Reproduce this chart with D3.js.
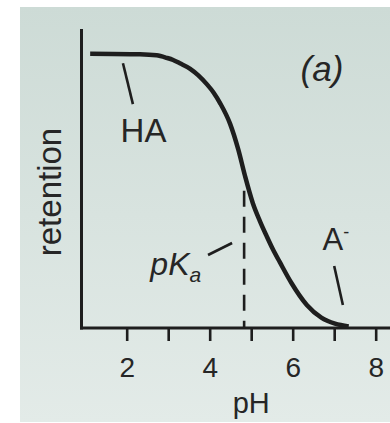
<!DOCTYPE html>
<html>
<head>
<meta charset="utf-8">
<script src="https://cdn.jsdelivr.net/npm/d3@7"></script>
<style>
  html, body { margin: 0; padding: 0; background: #ffffff; }
  svg { display: block; }
  text { font-family: "Liberation Sans", Arial, Helvetica, sans-serif; fill: #262626; }
</style>
</head>
<body>
<svg id="chart" width="390" height="423"></svg>
<script>
// Retention of a weak acid HA vs mobile-phase pH
const pHValues = [1.12, 2.32, 2.72, 2.96, 3.12, 3.28, 3.53, 3.72, 3.93, 4.10, 4.25, 4.49, 4.69, 4.85, 5.04, 5.21, 5.37, 5.52, 5.69, 5.97, 6.34, 6.69, 7.02, 7.35];
const retention = [1.0, 0.998, 0.994, 0.985, 0.977, 0.965, 0.945, 0.922, 0.889, 0.857, 0.820, 0.745, 0.650, 0.555, 0.455, 0.390, 0.336, 0.288, 0.240, 0.164, 0.084, 0.038, 0.016, 0.006];
const tickValues = [2, 3, 4, 5, 6, 7, 8];
const tickLabels = ["2", "", "4", "", "6", "", "8"];
const pKa = 4.83;
const pKaRetention = 0.5;

// Leader lines for the annotations, in (pH, retention) units
const leaderHA = [[1.91, 0.965], [2.15, 0.816]];
const leaderPKa = [[3.96, 0.266], [4.54, 0.310]];
const leaderA = [[7.00, 0.226], [7.21, 0.084]];

const svg = d3.select("#chart");
const W = 390;

// panel background with soft vertical gradient
const defs = svg.append("defs");
const grad = defs.append("linearGradient").attr("id", "bg").attr("x1", 0).attr("y1", 0).attr("x2", 0).attr("y2", 1);
grad.append("stop").attr("offset", "0%").attr("stop-color", "#cddbd6");
grad.append("stop").attr("offset", "100%").attr("stop-color", "#e3ebe8");
svg.append("rect").attr("x", 20).attr("y", 7).attr("width", W - 20).attr("height", 415).attr("fill", "url(#bg)");

const x = d3.scaleLinear().domain([0.875, 8.345]).range([80, 390]);
const y = d3.scaleLinear().domain([0, 1.09]).range([328, 29]);

const ink = "#1e1e1e";

// x axis with ticks hanging below the line
const xAxis = d3.axisBottom(x)
  .tickValues(tickValues)
  .tickFormat((d, i) => tickLabels[i])
  .tickSizeInner(13)
  .tickSizeOuter(0)
  .tickPadding(16);

const gx = svg.append("g").attr("transform", `translate(0,${y(0)})`).call(xAxis);
gx.select(".domain").remove();
gx.selectAll(".tick line").attr("stroke", ink).attr("stroke-width", 2.6);
gx.selectAll(".tick text").attr("font-size", 28).attr("fill", "#262626")
  .attr("font-family", "\"Liberation Sans\", Arial, sans-serif");

// axis lines
svg.append("line").attr("x1", x.range()[0]).attr("x2", x.range()[1])
  .attr("y1", y(0)).attr("y2", y(0)).attr("stroke", ink).attr("stroke-width", 3);
svg.append("line").attr("x1", x.range()[0] + 1.5).attr("x2", x.range()[0] + 1.5)
  .attr("y1", y(0) + 1.5).attr("y2", y.range()[1]).attr("stroke", ink).attr("stroke-width", 3);

// pKa marker, dashes start at the curve
svg.append("line")
  .attr("x1", x(pKa)).attr("x2", x(pKa))
  .attr("y1", y(pKaRetention)).attr("y2", y(0))
  .attr("stroke", ink).attr("stroke-width", 2.6)
  .attr("stroke-dasharray", "16,10");

// retention curve
const pts = pHValues.map((p, i) => [p, retention[i]]);
svg.append("path").datum(pts)
  .attr("fill", "none").attr("stroke", ink).attr("stroke-width", 4.5)
  .attr("stroke-linejoin", "round")
  .attr("d", d3.line().x(d => x(d[0])).y(d => y(d[1])).curve(d3.curveMonotoneX));

// leader lines
[leaderHA, leaderPKa, leaderA].forEach(seg => {
  svg.append("line")
    .attr("x1", x(seg[0][0])).attr("y1", y(seg[0][1]))
    .attr("x2", x(seg[1][0])).attr("y2", y(seg[1][1]))
    .attr("stroke", ink).attr("stroke-width", 2.6);
});

// labels
svg.append("text").attr("x", x(2.405)).attr("y", y(0.678))
  .attr("text-anchor", "middle").attr("font-size", 33).text("HA");

const pk = svg.append("text").attr("x", x(2.57)).attr("y", y(0.193))
  .attr("font-size", 32).attr("font-style", "italic");
pk.append("tspan").text("pK");
pk.append("tspan").attr("font-size", 21).attr("dy", 7).text("a");

const am = svg.append("text").attr("x", x(6.72)).attr("y", y(0.284))
  .attr("font-size", 31);
am.append("tspan").text("A");
am.append("tspan").attr("font-size", 18).attr("dy", -12).text("-");

svg.append("text").attr("x", x(6.706)).attr("y", y(0.9))
  .attr("text-anchor", "middle").attr("font-size", 35).attr("font-style", "italic").text("(a)");

svg.append("text").attr("x", x(5.0)).attr("y", 413)
  .attr("text-anchor", "middle").attr("font-size", 29).text("pH");

svg.append("text").attr("transform", `translate(61,192) rotate(-90)`)
  .attr("text-anchor", "middle").attr("font-size", 33).text("retention");
</script>
</body>
</html>
